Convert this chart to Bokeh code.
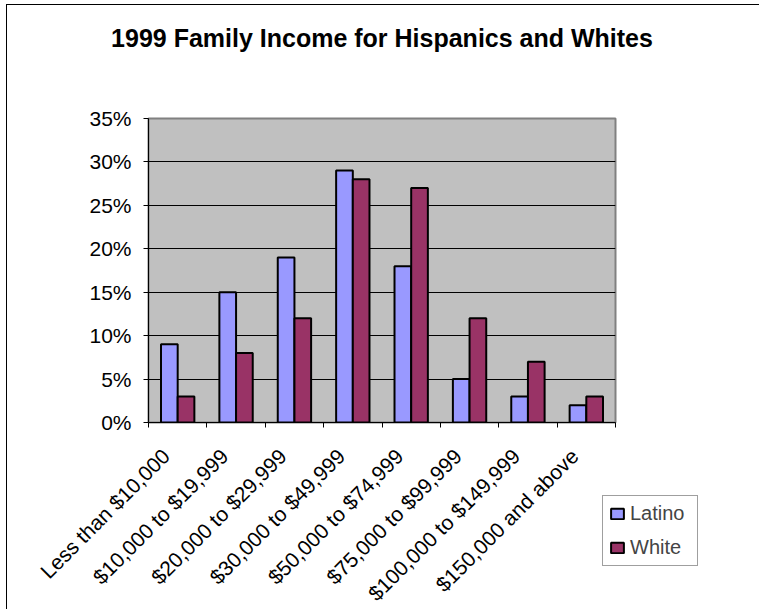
import numpy as np
from bokeh.plotting import figure
from bokeh.models import (ColumnDataSource, Range1d, FixedTicker, NumeralTickFormatter,
                          Legend, LegendItem, Title)
from bokeh.transform import dodge
from bokeh.embed import file_html
from bokeh.resources import INLINE

categories = ["Less than $10,000", "$10,000 to $19,999", "$20,000 to $29,999",
              "$30,000 to $49,999", "$50,000 to $74,999", "$75,000 to $99,999",
              "$100,000 to $149,999", "$150,000 and above"]
latino = [0.09, 0.15, 0.19, 0.29, 0.18, 0.05, 0.03, 0.02]
white = [0.03, 0.08, 0.12, 0.28, 0.27, 0.12, 0.07, 0.03]
y_ticks = [0.0, 0.05, 0.10, 0.15, 0.20, 0.25, 0.30, 0.35]
title_text = "1999 Family Income for Hispanics and Whites"

n = len(categories)
centers = np.arange(n) + 0.5
bar_w = 1 / 3.5
label_shift = 0.2  # Excel places the rotated label end slightly left of the category centre

src = ColumnDataSource(dict(x=centers, latino=latino, white=white))

FONT = "Liberation Sans"

p = figure(width=751, height=603, frame_width=467, frame_height=304,
           output_backend="svg", toolbar_location=None, title=None,
           x_range=Range1d(0, n), y_range=Range1d(0, 0.35),
           min_border_left=141, min_border_right=143, min_border_top=113,
           min_border_bottom=186,
           background_fill_color="#C0C0C0", border_fill_color="white",
           outline_line_color="#808080", outline_line_width=2)
p.styles = {"border-left": "1px solid black", "border-top": "1px solid black",
            "margin-left": "6px", "margin-top": "4px"}

# spacer between frame and title, then the title itself
spacer = Title(text=" ", text_font_size="1px", standoff=59)
p.add_layout(spacer, "above")
main_title = Title(text=title_text, text_font=FONT, text_font_size="25px",
                   text_font_style="bold", text_color="black", align="center",
                   offset=3, standoff=10)
p.add_layout(main_title, "above")

r1 = p.vbar(x=dodge("x", -bar_w / 2, range=p.x_range), top="latino", width=bar_w,
            source=src, fill_color="#9999FF", line_color="black", line_width=2)
r2 = p.vbar(x=dodge("x", bar_w / 2, range=p.x_range), top="white", width=bar_w,
            source=src, fill_color="#993366", line_color="black", line_width=2)

# grid
p.xgrid.grid_line_color = None
p.ygrid.grid_line_color = "black"
p.ygrid.grid_line_width = 1
p.ygrid.ticker = FixedTicker(ticks=y_ticks)

# y axis
p.yaxis.ticker = FixedTicker(ticks=y_ticks)
p.yaxis.formatter = NumeralTickFormatter(format="0%")
p.yaxis.major_tick_in = 0
p.yaxis.major_tick_out = 5
p.yaxis.minor_tick_line_color = None
p.yaxis.axis_line_color = "black"
p.yaxis.major_label_text_font = FONT
p.yaxis.major_label_text_font_size = "21px"
p.yaxis.major_label_text_color = "black"
p.yaxis.major_label_standoff = 12

# x axis
label_pos = [float(c - label_shift) for c in centers]
p.xaxis.ticker = FixedTicker(ticks=label_pos, minor_ticks=list(np.arange(n + 1)))
p.xaxis.major_label_overrides = {lp: lab for lp, lab in zip(label_pos, categories)}
p.xaxis.major_tick_line_color = None
p.xaxis.minor_tick_line_color = "black"
p.xaxis.minor_tick_in = 0
p.xaxis.minor_tick_out = 5
p.xaxis.axis_line_color = "black"
p.xaxis.major_label_orientation = np.pi / 4
p.xaxis.major_label_text_font = FONT
p.xaxis.major_label_text_font_size = "21px"
p.xaxis.major_label_text_color = "black"
p.xaxis.major_label_standoff = 24

legend = Legend(items=[LegendItem(label="Latino", renderers=[r1]),
                       LegendItem(label="White", renderers=[r2])],
                location=(-13, -144), margin=0, padding=6, spacing=11,
                glyph_width=16, glyph_height=13, label_height=20, label_width=61,
                label_standoff=5,
                label_text_font=FONT, label_text_font_size="20px",
                border_line_color="#404040", border_line_width=1,
                background_fill_color="white", background_fill_alpha=1)
p.add_layout(legend, "right")

open("out.html", "w").write(file_html(p, INLINE))
